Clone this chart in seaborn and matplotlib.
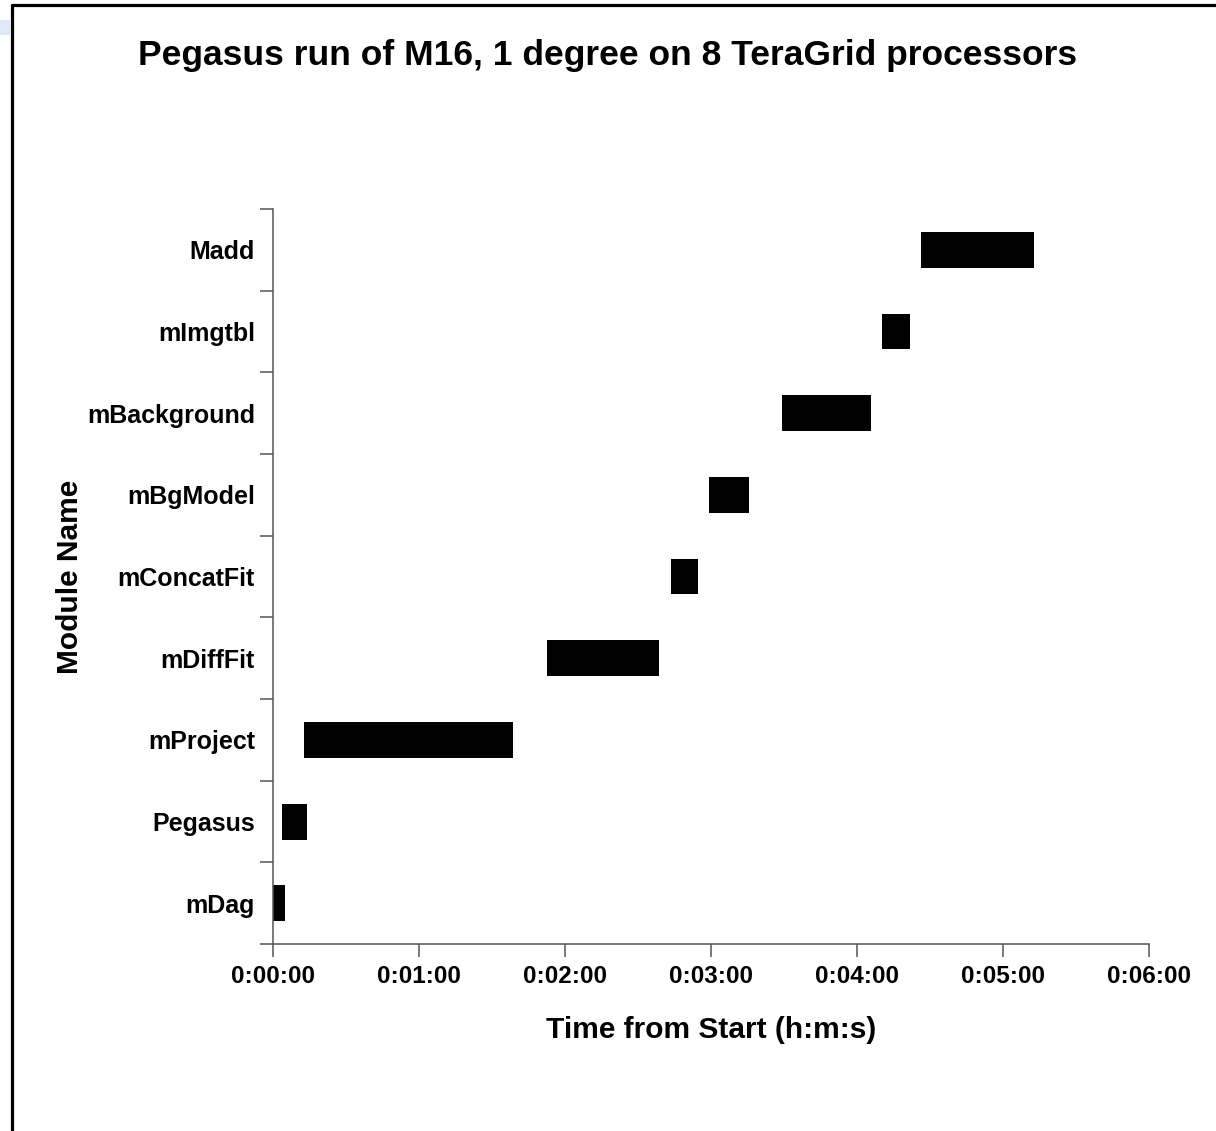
import matplotlib
matplotlib.use('Agg')
import numpy as np
import pandas as pd
import matplotlib.pyplot as plt
import matplotlib.lines as mlines
import matplotlib.patches as mpatches
import matplotlib.ticker as mticker
import seaborn as sns

# -------------------------------------------------------
# DATA (seconds from start)
# -------------------------------------------------------
modules = ['Madd', 'mImgtbl', 'mBackground', 'mBgModel', 'mConcatFit',
           'mDiffFit', 'mProject', 'Pegasus', 'mDag']
start_sec = [266.4, 250.4, 209.3, 179.4, 163.7, 112.7, 12.7, 3.7, 0.0]
end_sec = [312.8, 261.8, 245.8, 195.6, 174.9, 158.8, 98.8, 13.9, 4.8]
tick_sec = [0, 60, 120, 180, 240, 300, 360]

df = pd.DataFrame({'module': modules, 'start': start_sec, 'end': end_sec})

# -------------------------------------------------------
# STYLE
# -------------------------------------------------------
sns.set_theme(style='white')
plt.rcParams['font.family'] = ['Liberation Sans', 'DejaVu Sans']
plt.rcParams['font.weight'] = 'bold'
plt.rcParams['axes.labelweight'] = 'bold'
plt.rcParams['text.color'] = 'black'
plt.rcParams['axes.labelcolor'] = 'black'
plt.rcParams['xtick.labelcolor'] = 'black'
plt.rcParams['ytick.labelcolor'] = 'black'

AXIS_COLOR = '#555555'

fig = plt.figure(figsize=(12.16, 11.31), dpi=100)
ax = fig.add_axes([0.2245, 0.1653, 0.72, 0.6499])

# gantt bars: full bar to end time, then blank out up to start time
sns.barplot(data=df, x='end', y='module', order=modules, color='black',
            width=0.44, linewidth=0, saturation=1, ax=ax)
sns.barplot(data=df, x='start', y='module', order=modules, color='white',
            width=0.44, linewidth=0, saturation=1, ax=ax)

ax.set_xlim(0, 360)
ax.set_ylim(len(modules) - 0.5, -0.5)

ax.set_xticks(tick_sec)
ax.xaxis.set_major_formatter(mticker.FuncFormatter(
    lambda s, pos: f"{int(s) // 3600}:{(int(s) % 3600) // 60:02d}:{int(s) % 60:02d}"))
ax.yaxis.set_minor_locator(mticker.FixedLocator(np.arange(-0.5, len(modules), 1)))

ax.tick_params(axis='y', which='major', left=False, length=0, pad=13, labelsize=18)
ax.tick_params(axis='y', which='minor', left=True, length=9.4, width=1.1, color=AXIS_COLOR)
ax.tick_params(axis='x', which='major', bottom=True, length=9.4, width=1.1,
               color=AXIS_COLOR, labelsize=17.5, pad=6)
for lbl in ax.get_xticklabels() + ax.get_yticklabels():
    lbl.set_fontweight('bold')
    lbl.set_color('black')

sns.despine(ax=ax)
for side in ['left', 'bottom']:
    ax.spines[side].set_color(AXIS_COLOR)
    ax.spines[side].set_linewidth(1.1)

ax.set_xlabel('Time from Start (h:m:s)', fontsize=21.5, fontweight='bold',
              color='black', labelpad=20)
ax.set_ylabel('Module Name', fontsize=21.5, fontweight='bold',
              color='black', labelpad=2)

fig.text(0.5, 1 - 56 / 1131, 'Pegasus run of M16, 1 degree on 8 TeraGrid processors',
         ha='center', va='center', fontsize=25.5, fontweight='bold', color='black')

# outer frame (left and top edges) and the small tab at top-left
fig.add_artist(mlines.Line2D([12 / 1216, 12 / 1216], [0, 1 - 4.5 / 1131],
                             transform=fig.transFigure, color='black', lw=2.3))
fig.add_artist(mlines.Line2D([12 / 1216, 1], [1 - 5 / 1131, 1 - 5 / 1131],
                             transform=fig.transFigure, color='black', lw=2.3))
fig.add_artist(mpatches.Rectangle((0, 1 - 35 / 1131), 10 / 1216, 15 / 1131,
                                  transform=fig.transFigure, color='#dde9f6', lw=0))

fig.savefig('out.png', dpi=100)
